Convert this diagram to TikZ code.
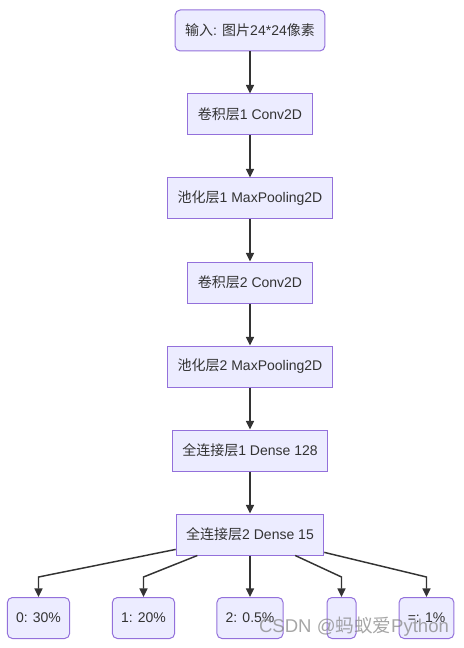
\documentclass[tikz,border=0pt]{standalone}
\usepackage{fontspec}
\setmainfont{Liberation Sans}
\newfontfamily\cjk{Noto Sans CJK SC}
\usetikzlibrary{arrows.meta}
\definecolor{boxfill}{HTML}{ECECFF}
\definecolor{boxline}{HTML}{9370DB}
\definecolor{ink}{HTML}{333333}
\newcommand{\zh}[1]{{\cjk #1}}
\tikzset{
  layer/.style={draw=boxline,fill=boxfill,line width=0.75pt,text=ink,
    minimum height=30.75pt,inner xsep=7.5pt,font=\fontsize{10.5}{12}\selectfont},
  soft/.style={layer,rounded corners=3.75pt},
  flow/.style={draw=ink,line width=1.1pt,-{Triangle[length=6.5pt,width=6pt]}},
}
\begin{document}
\begin{tikzpicture}[x=0.75pt,y=-0.75pt]
\useasboundingbox (0,0) rectangle (463,648);
% main chain
\node[soft]  (in)   at (250,30.5)  {\zh{输入}: \zh{图片}24*24\zh{像素}};
\node[layer] (c1)   at (250,114.5) {\zh{卷积层}1 Conv2D};
\node[layer] (p1)   at (250,198.5) {\zh{池化层}1 MaxPooling2D};
\node[layer] (c2)   at (250,282.5) {\zh{卷积层}2 Conv2D};
\node[layer] (p2)   at (250,366.5) {\zh{池化层}2 MaxPooling2D};
\node[layer] (d128) at (250,450.5) {\zh{全连接层}1 Dense 128};
\node[layer] (d15)  at (250,534.5) {\zh{全连接层}2 Dense 15};
\foreach \a/\b in {in/c1,c1/p1,p1/c2,c2/p2,p2/d128,d128/d15}
  \draw[flow] (\a) -- (\b);
% outputs
\node[soft,inner xsep=6.5pt] (o0) at (38.5,618)  {0: 30\%};
\node[soft,inner xsep=6.5pt] (o1) at (143.5,618) {1: 20\%};
\node[soft,inner xsep=6.5pt] (o2) at (250,618)   {2: 0.5\%};
\node[soft,minimum width=21.75pt] (o3) at (341.5,618) {};
\node[soft,inner xsep=6.5pt] (o4) at (426.5,618) {=: 1\%};
\coordinate (k0) at (38.5,577);
\coordinate (k1) at (143.5,577);
\coordinate (k3) at (341.5,577);
\coordinate (k4) at (426.5,577);
\draw[flow] (d15) -- (k0) -- (o0);
\draw[flow] (d15) -- (k1) -- (o1);
\draw[flow] (d15) -- (o2);
\draw[flow] (d15) -- (k3) -- (o3);
\draw[flow] (d15) -- (k4) -- (o4);
% watermark
\node[text=gray,opacity=0.7,font=\fontsize{13.9}{15}\selectfont,inner sep=0pt]
  (mark) at (354,627) {CSDN @\zh{蚂蚁爱}Python};
\end{tikzpicture}
\end{document}
